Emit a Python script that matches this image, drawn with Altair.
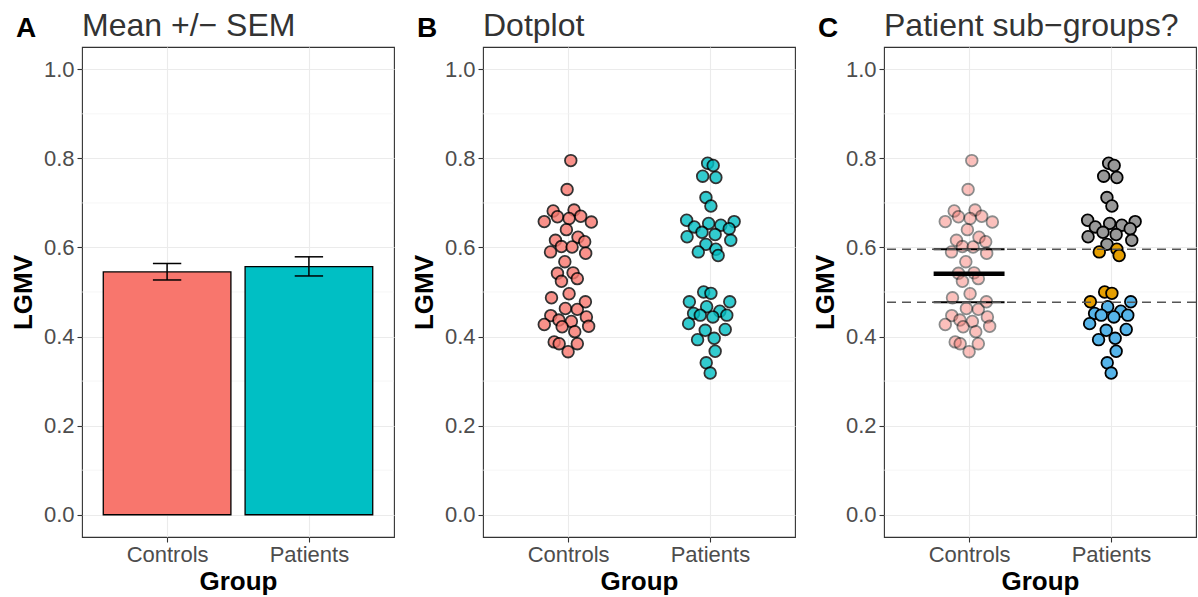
import altair as alt
import pandas as pd

# ---------------- data ----------------
groups = ["Controls", "Patients"]
group_colors = ["#F8766D", "#00BFC4"]

# Panel A: mean and SEM limits
bar_means = [0.545, 0.557]
sem_low = [0.527, 0.536]
sem_high = [0.564, 0.579]

# Panel B/C: individual LGMV values and beeswarm offsets (in category units)
ctrl_lgmv = [0.795, 0.730, 0.682, 0.684, 0.669, 0.665, 0.670, 0.658, 0.657, 0.640,
             0.616, 0.623, 0.613, 0.602, 0.601, 0.590, 0.587, 0.568, 0.542, 0.543,
             0.524, 0.530, 0.496, 0.487, 0.478, 0.463, 0.461, 0.447, 0.444, 0.437,
             0.434, 0.427, 0.423, 0.422, 0.411, 0.388, 0.384, 0.384, 0.366]
ctrl_offset = [0.019, -0.007, -0.105, 0.042, -0.075, 0.007, 0.089, -0.168, 0.164, -0.012,
               -0.089, 0.070, 0.117, -0.047, 0.028, -0.124, 0.124, -0.023, -0.075, 0.035,
               -0.047, 0.065, 0.007, -0.117, 0.122, -0.019, 0.065, -0.122, 0.129, -0.065,
               0.023, -0.168, 0.145, -0.042, 0.047, -0.098, -0.063, 0.065, 0.000]

pat_lgmv = [0.789, 0.784, 0.760, 0.757, 0.712, 0.693, 0.661, 0.654, 0.658, 0.646,
            0.650, 0.634, 0.642, 0.629, 0.624, 0.616, 0.607, 0.590, 0.596, 0.582,
            0.500, 0.497, 0.478, 0.478, 0.467, 0.452, 0.457, 0.448, 0.444, 0.448,
            0.429, 0.414, 0.416, 0.393, 0.396, 0.367, 0.341, 0.318]
pat_offset = [-0.016, 0.023, -0.051, 0.042, -0.028, 0.007, -0.164, -0.009, 0.171, -0.110,
              0.077, -0.056, 0.136, 0.037, -0.161, 0.147, -0.028, -0.082, 0.042, 0.058,
              -0.044, 0.007, -0.145, 0.140, -0.023, -0.115, 0.070, -0.068, 0.021, 0.119,
              -0.150, -0.033, 0.108, -0.087, 0.030, 0.037, -0.026, 0.002]
pat_subgroup = ["High"] * 17 + ["Mid"] * 6 + ["Low"] * 15
subgroup_names = ["High", "Mid", "Low"]
subgroup_colors = ["#999999", "#E69F00", "#56B4E9"]

# Panel C: control reference lines
ctrl_mean = 0.541
ctrl_upper = 0.596
ctrl_lower = 0.477

y_ticks = [0.0, 0.2, 0.4, 0.6, 0.8, 1.0]
y_minor = [0.1, 0.3, 0.5, 0.7, 0.9]

panel_letters = ["A", "B", "C"]
panel_titles = ["Mean +/\u2212 SEM", "Dotplot", "Patient sub\u2212groups?"]

# ---------------- tables ----------------
bars = pd.DataFrame({"group": groups, "idx": [0, 1], "y": bar_means,
                     "lo": sem_low, "hi": sem_high})
ctrl = pd.DataFrame({"group": groups[0], "idx": 0, "y": ctrl_lgmv, "off": ctrl_offset})
pat = pd.DataFrame({"group": groups[1], "idx": 1, "y": pat_lgmv, "off": pat_offset,
                    "sub": pat_subgroup})
points = pd.concat([ctrl, pat], ignore_index=True)
minor = pd.DataFrame({"y": y_minor})
ref = pd.DataFrame({"idx": [0, 0, 0], "y": [ctrl_mean, ctrl_upper, ctrl_lower],
                    "w": [4.5, 2.2, 2.2]})
hl = pd.DataFrame({"y": [ctrl_upper, ctrl_lower]})

FONT = "Liberation Sans"
W, H = 312, 490
PT = 135

XS = alt.Scale(domain=[-0.6, 1.6], nice=False, zero=False)
YS = alt.Scale(domain=[-0.05, 1.05], nice=False, zero=False)
label_expr = "datum.value == 0 ? '%s' : '%s'" % (groups[0], groups[1])
XA = alt.Axis(values=[0, 1], labelExpr=label_expr, title="Group", grid=True,
              labelPadding=2, titlePadding=3)
YA = alt.Axis(values=y_ticks, format=".1f", title="LGMV", grid=True,
              labelPadding=3, titlePadding=7)


def X(field):
    return alt.X(field, type="quantitative", scale=XS, axis=XA)


def Y(field):
    return alt.Y(field, type="quantitative", scale=YS, axis=YA)


def minor_grid():
    return alt.Chart(minor).mark_rule(color="#F2F2F2", strokeWidth=0.7).encode(y=Y("y"))


def titles(i):
    t = pd.DataFrame({"letter": [panel_letters[i]], "title": [panel_titles[i]]})
    letter = alt.Chart(t).mark_text(font=FONT, fontSize=28, fontWeight="bold", color="black",
                                    align="left", baseline="alphabetic").encode(
        text="letter:N", x=alt.value(-66), y=alt.value(-10))
    title = alt.Chart(t).mark_text(font=FONT, fontSize=32, color="#333333",
                                   align="left", baseline="alphabetic").encode(
        text="title:N", x=alt.value(0), y=alt.value(-11))
    return letter + title


color_group = alt.Color("group:N", scale=alt.Scale(domain=groups, range=group_colors), legend=None)

# ---------------- Panel A ----------------
bar_layer = alt.Chart(bars).transform_calculate(
    x0="datum.idx - 0.45", x1="datum.idx + 0.45", zero="0"
).mark_bar(stroke="black", strokeWidth=1.3).encode(
    x=X("x0"), x2="x1", y=Y("y"), y2="zero:Q", color=color_group)

err_v = alt.Chart(bars).mark_rule(color="black", strokeWidth=1.5).encode(
    x=X("idx"), y=Y("lo"), y2="hi")
err_h = alt.Chart(bars).transform_fold(["lo", "hi"], as_=["k", "v"]).transform_calculate(
    x0="datum.idx - 0.1", x1="datum.idx + 0.1"
).mark_rule(color="black", strokeWidth=1.5).encode(
    x=X("x0"), x2="x1", y=Y("v"))

panelA = alt.layer(minor_grid(), bar_layer, err_v, err_h, titles(0)).properties(width=W, height=H)

# ---------------- Panel B ----------------
dots_B = alt.Chart(points).transform_calculate(
    xp="datum.idx + datum.off"
).mark_circle(size=PT, stroke="black", strokeWidth=1.8, opacity=0.8).encode(
    x=X("xp"), y=Y("y"), color=color_group)

panelB = alt.layer(minor_grid(), dots_B, titles(1)).properties(width=W, height=H)

# ---------------- Panel C ----------------
dots_C_ctrl = alt.Chart(ctrl).transform_calculate(
    xp="datum.idx + datum.off"
).mark_circle(size=PT, stroke="black", strokeWidth=1.8, opacity=0.45, fill=group_colors[0]).encode(
    x=X("xp"), y=Y("y"))

ref_lines = alt.Chart(ref).transform_calculate(
    x0="datum.idx - 0.25", x1="datum.idx + 0.25"
).mark_rule(color="black").encode(
    x=X("x0"), x2="x1", y=Y("y"),
    strokeWidth=alt.StrokeWidth("w:Q", scale=None, legend=None))

dots_C_pat = alt.Chart(pat).transform_calculate(
    xp="datum.idx + datum.off"
).mark_circle(size=PT, stroke="black", strokeWidth=1.8, opacity=1).encode(
    x=X("xp"), y=Y("y"),
    color=alt.Color("sub:N", scale=alt.Scale(domain=subgroup_names, range=subgroup_colors),
                    legend=None))

dashed = alt.Chart(hl).mark_rule(color="#555555", strokeWidth=1.5, strokeDash=[9, 6]).encode(
    y=Y("y"))

panelC = alt.layer(minor_grid(), dots_C_ctrl, ref_lines, dots_C_pat, dashed, titles(2)).properties(
    width=W, height=H)

chart = alt.hconcat(panelA, panelB, panelC, spacing=89, bounds="flush").resolve_scale(
    color="independent"
).properties(
    padding={"left": 9, "top": 9, "right": 0, "bottom": 0}
).configure_view(
    stroke="#333333", strokeWidth=1.1
).configure_axis(
    domain=False, tickColor="#333333", tickSize=5, tickWidth=1.1,
    gridColor="#EBEBEB", gridWidth=1.1,
    labelFont=FONT, labelFontSize=22, labelColor="#4D4D4D",
    titleFont=FONT, titleFontSize=26, titleFontWeight="bold", titleColor="black"
)

chart.save("out.html", embed_options={"renderer": "svg", "actions": False})
